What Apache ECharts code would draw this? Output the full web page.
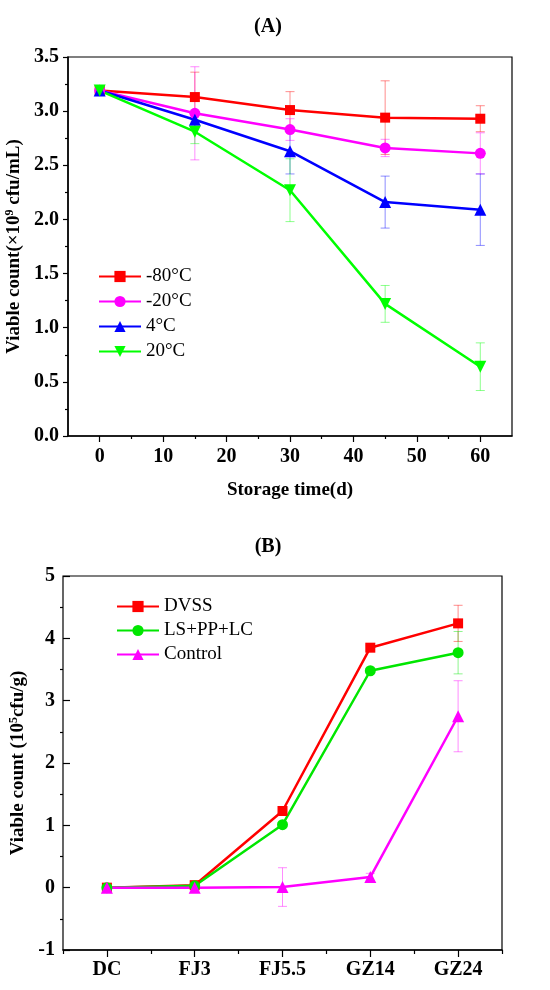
<!DOCTYPE html>
<html>
<head>
<meta charset="utf-8">
<title>Viable count</title>
<script src="https://cdn.jsdelivr.net/npm/echarts@6/dist/echarts.min.js"></script>
<style>
    html, body { margin: 0; padding: 0; background: #fff; }
    #main { width: 550px; height: 990px; }
</style>
</head>
<body>
<div id="main"></div>
<script>
// ---- (A) storage temperature ----
const storageDays = [0, 15, 30, 45, 60];
const tempNames = ['-80°C', '-20°C', '4°C', '20°C'];
const minus80 = [3.19, 3.13, 3.01, 2.94, 2.93];
const minus20 = [3.19, 2.98, 2.83, 2.66, 2.61];
const plus4 = [3.19, 2.92, 2.63, 2.16, 2.09];
const plus20 = [3.19, 2.81, 2.27, 1.22, 0.64];
const minus80Err = [0.02, 0.23, 0.17, 0.34, 0.12];
const minus20Err = [0.02, 0.43, 0.10, 0.08, 0.19];
const plus4Err = [0.03, 0.07, 0.21, 0.24, 0.33];
const plus20Err = [0.02, 0.11, 0.29, 0.17, 0.22];
const xTicksA = [0, 10, 20, 30, 40, 50, 60];
const xMinorA = [5, 15, 25, 35, 45, 55];

// ---- (B) processing stages ----
const stages = ['DC', 'FJ3', 'FJ5.5', 'GZ14', 'GZ24'];
const groupNames = ['DVSS', 'LS+PP+LC', 'Control'];
const dvss = [0, 0.04, 1.23, 3.85, 4.24];
const lsppl = [0, 0.03, 1.01, 3.48, 3.77];
const control = [0, 0, 0.01, 0.17, 2.75];
const dvssErr = [0.01, 0.02, 0.03, 0.04, 0.29];
const lspplErr = [0.01, 0.02, 0.03, 0.04, 0.34];
const controlErr = [0.01, 0.01, 0.31, 0.06, 0.57];
const yMinorB = [-0.5, 0.5, 1.5, 2.5, 3.5, 4.5];

const FONT = 'Liberation Serif';
const RED = '#ff0000', MAGENTA = '#ff00ff', BLUE = '#0000ff', GREEN = '#00ff00', GREEN_B = '#00e600';

const labelStyle = { fontFamily: FONT, fontSize: 20, fontWeight: 'bold', color: '#000' };
const lineAxis = { onZero: false, lineStyle: { color: '#000', width: 1.5 } };

// 误差线（竖线 + 上下横帽）
function errorSeries(xs, ys, errs, color, xi, yi) {
    const data = ys.map((v, i) => [xs ? xs[i] : i, v - errs[i], v + errs[i]]);
    return {
        type: 'custom',
        xAxisIndex: xi,
        yAxisIndex: yi,
        z: 1,
        silent: true,
        data: data,
        renderItem: function (params, api) {
            const x = api.value(0);
            const lo = api.coord([x, api.value(1)]);
            const hi = api.coord([x, api.value(2)]);
            const w = 4.5;
            const style = { stroke: color, lineWidth: 1, opacity: 0.45 };
            return {
                type: 'group',
                children: [
                    { type: 'line', shape: { x1: hi[0], y1: hi[1], x2: lo[0], y2: lo[1] }, style: style },
                    { type: 'line', shape: { x1: hi[0] - w, y1: hi[1], x2: hi[0] + w, y2: hi[1] }, style: style },
                    { type: 'line', shape: { x1: lo[0] - w, y1: lo[1], x2: lo[0] + w, y2: lo[1] }, style: style }
                ]
            };
        }
    };
}

function lineSeries(name, xs, ys, color, symbol, size, xi, yi, rotate) {
    return {
        name: name,
        type: 'line',
        xAxisIndex: xi,
        yAxisIndex: yi,
        z: 3,
        data: xs ? ys.map((v, i) => [xs[i], v]) : ys,
        symbol: symbol,
        symbolSize: size,
        symbolRotate: rotate || 0,
        showAllSymbol: true,
        lineStyle: { color: color, width: 2.5 },
        itemStyle: { color: color, opacity: 1 },
        emphasis: { disabled: true },
        animation: false
    };
}

const option = {
    animation: false,
    backgroundColor: '#fff',
    title: [
        {
            text: '{p|(}{b|A}{p|)}',
            left: 263, top: 12, textAlign: 'center',
            textStyle: { rich: {
                p: { fontFamily: FONT, fontSize: 20, color: '#000' },
                b: { fontFamily: FONT, fontSize: 20, fontWeight: 'bold', color: '#000' }
            } }
        },
        {
            text: '{p|(}{b|B}{p|)}',
            left: 263, top: 532, textAlign: 'center',
            textStyle: { rich: {
                p: { fontFamily: FONT, fontSize: 20, color: '#000' },
                b: { fontFamily: FONT, fontSize: 20, fontWeight: 'bold', color: '#000' }
            } }
        }
    ],
    grid: [
        { left: 68, top: 57, width: 444, height: 379, show: true, borderColor: '#000', borderWidth: 1.2, outerBoundsMode: 'none' },
        { left: 63, top: 576, width: 439, height: 374, show: true, borderColor: '#000', borderWidth: 1.2, outerBoundsMode: 'none' }
    ],
    legend: [
        {
            data: tempNames,
            orient: 'vertical',
            left: 98, top: 267, padding: 0,
            itemWidth: 42, itemHeight: 14, itemGap: 6,
            textStyle: { fontFamily: FONT, fontSize: 19, color: '#000' }
        },
        {
            data: groupNames,
            orient: 'vertical',
            left: 116, top: 597, padding: 0,
            itemWidth: 42, itemHeight: 14, itemGap: 5,
            textStyle: { fontFamily: FONT, fontSize: 19, color: '#000' }
        }
    ],
    xAxis: [
        {
            type: 'value', gridIndex: 0, position: 'bottom', min: -5, max: 65, interval: 5,
            axisLine: lineAxis,
            axisTick: { show: true, length: 6, inside: false, customValues: xTicksA, lineStyle: { color: '#000', width: 1.2 } },
            axisLabel: Object.assign({ margin: 11, customValues: xTicksA }, labelStyle),
            splitLine: { show: false },
            name: 'Storage time(d)', nameLocation: 'middle', nameGap: 45,
            nameTextStyle: { fontFamily: FONT, fontSize: 19, fontWeight: 'bold', color: '#000' }
        },
        {
            type: 'value', gridIndex: 0, position: 'bottom', min: -5, max: 65, interval: 5,
            axisLine: { show: false, onZero: false },
            axisTick: { show: true, length: 3, inside: false, customValues: xMinorA, lineStyle: { color: '#000', width: 1.2 } },
            axisLabel: { show: false },
            splitLine: { show: false }
        },
        {
            type: 'category', gridIndex: 1, position: 'bottom', data: stages, boundaryGap: true,
            axisLine: lineAxis,
            axisTick: { show: true, length: 4, inside: false, lineStyle: { color: '#000', width: 1.2 } },
            axisLabel: Object.assign({ margin: 10, interval: 0 }, labelStyle),
            splitLine: { show: false }
        },
        {
            type: 'category', gridIndex: 1, position: 'bottom', data: stages, boundaryGap: true,
            axisLine: { show: false, onZero: false },
            axisTick: { show: true, length: 7, inside: false, alignWithLabel: true, lineStyle: { color: '#000', width: 1.2 } },
            axisLabel: { show: false },
            splitLine: { show: false }
        }
    ],
    yAxis: [
        {
            type: 'value', gridIndex: 0, position: 'left', min: 0, max: 3.5, interval: 0.5,
            axisLine: lineAxis,
            axisTick: { show: true, length: 5, inside: false, lineStyle: { color: '#000', width: 1.2 } },
            minorTick: { show: true, splitNumber: 2, length: 3, lineStyle: { color: '#000', width: 1.2 } },
            axisLabel: Object.assign({ margin: 9, formatter: v => v.toFixed(1) }, labelStyle),
            splitLine: { show: false },
            minorSplitLine: { show: false },
            name: '{t|Viable count(×10}{s|9}{t| cfu/mL)}', nameLocation: 'middle', nameGap: 39,
            nameTextStyle: {
                rich: {
                    t: { fontFamily: FONT, fontSize: 19, fontWeight: 'bold', color: '#000' },
                    s: { fontFamily: FONT, fontSize: 12, fontWeight: 'bold', color: '#000', verticalAlign: 'top', padding: [0, 0, 8, 0] }
                }
            }
        },
        {
            type: 'value', gridIndex: 1, position: 'left', min: -1, max: 5, interval: 1,
            axisLine: lineAxis,
            axisTick: { show: true, length: 7, inside: true, lineStyle: { color: '#000', width: 1.2 } },
            axisLabel: Object.assign({ margin: 8 }, labelStyle),
            splitLine: { show: false },
            name: '{t|Viable count (10}{s|5}{t|cfu/g)}', nameLocation: 'middle', nameGap: 28,
            nameTextStyle: {
                rich: {
                    t: { fontFamily: FONT, fontSize: 19, fontWeight: 'bold', color: '#000' },
                    s: { fontFamily: FONT, fontSize: 12, fontWeight: 'bold', color: '#000', verticalAlign: 'top', padding: [0, 0, 8, 0] }
                }
            }
        },
        {
            type: 'value', gridIndex: 1, position: 'left', min: -1, max: 5, interval: 1,
            axisLine: { show: false, onZero: false },
            axisTick: { show: true, length: 3, inside: false, customValues: yMinorB, lineStyle: { color: '#000', width: 1.2 } },
            axisLabel: { show: false },
            splitLine: { show: false }
        }
    ],
    series: [
        errorSeries(storageDays, minus80, minus80Err, RED, 0, 0),
        errorSeries(storageDays, minus20, minus20Err, MAGENTA, 0, 0),
        errorSeries(storageDays, plus4, plus4Err, BLUE, 0, 0),
        errorSeries(storageDays, plus20, plus20Err, GREEN, 0, 0),
        lineSeries(tempNames[0], storageDays, minus80, RED, 'rect', 10, 0, 0),
        lineSeries(tempNames[1], storageDays, minus20, MAGENTA, 'circle', 11, 0, 0),
        lineSeries(tempNames[2], storageDays, plus4, BLUE, 'triangle', 12, 0, 0),
        lineSeries(tempNames[3], storageDays, plus20, GREEN, 'triangle', 12, 0, 0, 180),

        errorSeries(null, dvss, dvssErr, RED, 2, 1),
        errorSeries(null, lsppl, lspplErr, GREEN_B, 2, 1),
        errorSeries(null, control, controlErr, MAGENTA, 2, 1),
        lineSeries(groupNames[0], null, dvss, RED, 'rect', 10, 2, 1),
        lineSeries(groupNames[1], null, lsppl, GREEN_B, 'circle', 11, 2, 1),
        lineSeries(groupNames[2], null, control, MAGENTA, 'triangle', 12, 2, 1)
    ]
};

const myChart = echarts.init(document.getElementById('main'), null, { renderer: 'canvas' });
myChart.setOption(option);
</script>
</body>
</html>
